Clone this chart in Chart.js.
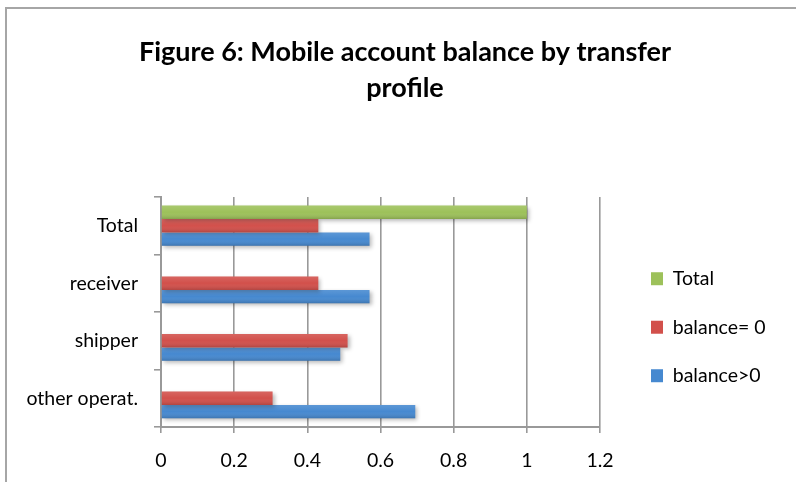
<!DOCTYPE html>
<html>
<head>
<meta charset="utf-8">
<script src="https://cdn.jsdelivr.net/npm/chart.js@4/dist/chart.umd.min.js"></script>
<style>
  html, body { margin: 0; padding: 0; background: #fff; }
  #frame {
    position: absolute; left: 5px; top: 7px; width: 900px; height: 600px;
    border-left: 2px solid #a6a6a6; border-top: 2px solid #a6a6a6;
  }
  #wrap { position: absolute; left: 0; top: 0; width: 796px; height: 482px; }
</style>
</head>
<body>
<div id="frame"></div>
<div id="wrap"><canvas id="chart" width="796" height="482"></canvas></div>
<script>
const categories = ["Total", "receiver", "shipper", "other operat."];
const totalValues = [1.0, null, null, null];
const balanceZero = [0.43, 0.43, 0.51, 0.305];
const balancePositive = [0.57, 0.57, 0.49, 0.695];
const xTicks = [0, 0.2, 0.4, 0.6, 0.8, 1, 1.2];

const FONT = "Lato, 'Open Sans', sans-serif";
const GRID = "#999999";

// legend sits apart from the plot like the Excel original
const legendPlace = {
  id: "legendPlace",
  beforeLayout(chart) {
    const lg = chart.legend;
    if (lg && !lg._patched) {
      const fit = lg.fit.bind(lg);
      lg.fit = function () {
        fit();
        this.width = 196;
      };
      lg._patched = true;
    }
  },
  afterLayout(chart) {
    const lg = chart.legend;
    const area = chart.chartArea;
    lg.left = area.right + 22;
    lg.top = area.top + 43;
    lg.bottom = chart.height;
  },
};

// soft shading + drop shadow on the bars
const barShade = {
  id: "barShade",
  beforeDatasetsDraw(chart) {
    const c = chart.ctx;
    c.save();
    c.shadowColor = "rgba(0,0,0,0.28)";
    c.shadowBlur = 4;
    c.shadowOffsetX = 2;
    c.shadowOffsetY = 2;
  },
  afterDatasetsDraw(chart) {
    const c = chart.ctx;
    c.restore();
    c.save();
    chart.data.datasets.forEach((ds, i) => {
      chart.getDatasetMeta(i).data.forEach((bar) => {
        const p = bar.getProps(["x", "y", "base", "height"], true);
        if (p.x == null || isNaN(p.x) || p.x === p.base) return;
        const top = p.y - p.height / 2;
        const g = c.createLinearGradient(0, top, 0, top + p.height);
        g.addColorStop(0, "rgba(255,255,255,0.12)");
        g.addColorStop(0.5, "rgba(255,255,255,0)");
        g.addColorStop(1, "rgba(0,0,0,0.16)");
        c.fillStyle = g;
        c.fillRect(p.base, top, p.x - p.base, p.height);
      });
    });
    c.restore();
  },
};

const ctx = document.getElementById("chart").getContext("2d");
new Chart(ctx, {
  type: "bar",
  data: {
    labels: categories,
    datasets: [
      { label: "Total", data: totalValues, backgroundColor: "#9dc15a" },
      { label: "balance= 0", data: balanceZero, backgroundColor: "#d2504b" },
      { label: "balance>0", data: balancePositive, backgroundColor: "#4689d0" },
    ],
  },
  options: {
    indexAxis: "y",
    responsive: false,
    animation: false,
    layout: { padding: { left: 14, right: 0, top: 34, bottom: 0 } },
    datasets: { bar: { categoryPercentage: 0.7, barPercentage: 1.0 } },
    scales: {
      x: {
        min: 0,
        max: 1.2,
        afterBuildTicks: (axis) => { axis.ticks = xTicks.map((v) => ({ value: v })); },
        afterFit: (axis) => { axis.height = 55; },
        ticks: {
          color: "#000",
          font: { family: FONT, size: 19.5 },
          padding: 16,
          callback: (v) => String(+Number(v).toFixed(1)),
        },
        grid: { color: GRID, lineWidth: 1.6, tickLength: 6 },
        border: { color: GRID, width: 2 },
      },
      y: {
        afterFit: (axis) => { axis.width = 147; },
        ticks: { color: "#000", font: { family: FONT, size: 19.5 }, padding: 16 },
        grid: { drawOnChartArea: false, color: GRID, lineWidth: 1.6, tickLength: 7 },
        border: { color: GRID, width: 2 },
      },
    },
    plugins: {
      title: {
        display: true,
        text: ["Figure 6: Mobile account balance by transfer", "profile"],
        color: "#000",
        font: { family: FONT, size: 27, weight: "bold", lineHeight: 1.333 },
        padding: { top: 0, bottom: 91 },
      },
      legend: {
        position: "right",
        align: "start",
        labels: {
          color: "#000",
          font: { family: FONT, size: 19.5 },
          boxWidth: 12,
          boxHeight: 13,
          padding: 29,
        },
      },
      tooltip: { enabled: false },
    },
  },
  plugins: [legendPlace, barShade],
});
</script>
</body>
</html>
